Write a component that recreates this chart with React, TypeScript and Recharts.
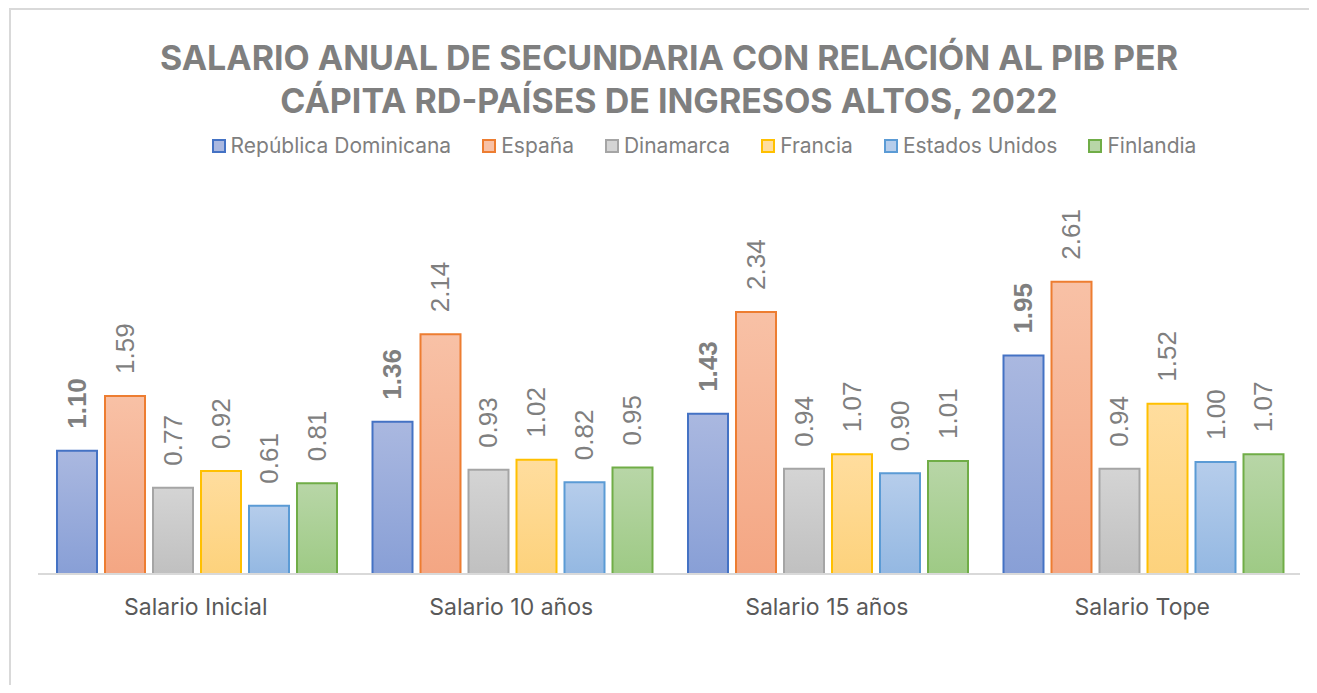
import { BarChart, Bar, XAxis, YAxis, LabelList } from 'recharts';

// Categories and series values
const categories = ['Salario Inicial', 'Salario 10 años', 'Salario 15 años', 'Salario Tope'];
const republicaDominicana = [1.10, 1.36, 1.43, 1.95];
const espana = [1.59, 2.14, 2.34, 2.61];
const dinamarca = [0.77, 0.93, 0.94, 0.94];
const francia = [0.92, 1.02, 1.07, 1.52];
const estadosUnidos = [0.61, 0.82, 0.90, 1.00];
const finlandia = [0.81, 0.95, 1.01, 1.07];

const data = categories.map((cat, i) => ({
  cat,
  rd: republicaDominicana[i],
  es: espana[i],
  dk: dinamarca[i],
  fr: francia[i],
  us: estadosUnidos[i],
  fi: finlandia[i],
}));

const SERIES = [
  { key: 'rd', name: 'República Dominicana', stroke: '#4472C4', top: '#AAB8E0', bottom: '#889FD6', bold: true },
  { key: 'es', name: 'España', stroke: '#ED7D31', top: '#F8C1A6', bottom: '#F4A683', bold: false },
  { key: 'dk', name: 'Dinamarca', stroke: '#A5A5A5', top: '#D4D4D4', bottom: '#C0C0C0', bold: false },
  { key: 'fr', name: 'Francia', stroke: '#FFC000', top: '#FFDD9E', bottom: '#FDD27C', bold: false },
  { key: 'us', name: 'Estados Unidos', stroke: '#5B9BD5', top: '#B6CDEB', bottom: '#94B8E2', bold: false },
  { key: 'fi', name: 'Finlandia', stroke: '#70AD47', top: '#B8D6A7', bottom: '#9ECA85', bold: false },
];

const FONT = 'Inter, "Open Sans", sans-serif';
const GREY = '#7F7F7F';

// rotated value label sitting above each bar
const makeLabel = (bold: boolean) => (props: any) => {
  const { x, y, width, value } = props;
  const cx = x + width / 2;
  const cy = y - 22;
  return (
    <text
      x={cx}
      y={cy}
      transform={`rotate(-90, ${cx}, ${cy})`}
      textAnchor="start"
      dominantBaseline="central"
      fill={GREY}
      fontSize={26}
      fontWeight={bold ? 700 : 400}
      fontFamily='"Liberation Sans", Arial, sans-serif'
    >
      {Number(value).toFixed(2)}
    </text>
  );
};

export default function App() {
  return (
    <div
      style={{
        position: 'relative',
        width: 1308,
        height: 685,
        marginLeft: 1,
        marginBottom: -8,
        borderTop: '2px solid #D9D9D9',
        borderLeft: '2px solid #D9D9D9',
        boxSizing: 'border-box',
        background: '#fff',
        overflow: 'hidden',
      }}
    >
      <div
        style={{
          position: 'absolute',
          left: 0,
          width: 1316,
          top: 26,
          textAlign: 'center',
          fontFamily: FONT,
          fontWeight: 700,
          fontSize: 34,
          lineHeight: '43px',
          color: GREY,
        }}
      >
        SALARIO ANUAL DE SECUNDARIA CON RELACIÓN AL PIB PER
        <br />
        CÁPITA RD-PAÍSES DE INGRESOS ALTOS, 2022
      </div>
      <div
        style={{
          position: 'absolute',
          left: 0,
          width: 1386,
          top: 122,
          display: 'flex',
          justifyContent: 'center',
          gap: 31,
          fontFamily: FONT,
          fontSize: 21,
          lineHeight: '28px',
          color: GREY,
        }}
      >
        {SERIES.map((s) => (
          <div key={s.key} style={{ display: 'flex', alignItems: 'center', gap: 5 }}>
            <span
              style={{
                display: 'inline-block',
                width: 10,
                height: 10,
                border: `2px solid ${s.stroke}`,
                background: s.top,
              }}
            />
            <span>{s.name}</span>
          </div>
        ))}
      </div>
      <BarChart
        width={1300}
        height={680}
        data={data}
        margin={{ top: 228, right: 11, bottom: 86, left: 27 }}
        barCategoryGap={19}
        barGap={8}
        style={{ position: 'absolute', left: 0, top: 0 }}
      >
        <defs>
          {SERIES.map((s) => (
            <linearGradient key={s.key} id={`grad-${s.key}`} x1="0" y1="0" x2="0" y2="1">
              <stop offset="0%" stopColor={s.top} />
              <stop offset="100%" stopColor={s.bottom} />
            </linearGradient>
          ))}
        </defs>
        <XAxis
          dataKey="cat"
          axisLine={{ stroke: '#D9D9D9', strokeWidth: 2 }}
          tickLine={false}
          tickSize={6}
          tickMargin={19}
          tick={{ fill: '#595959', fontSize: 23, fontFamily: FONT }}
        />
        <YAxis hide domain={[0, 3]} />
        {SERIES.map((s) => (
          <Bar
            key={s.key}
            dataKey={s.key}
            name={s.name}
            fill={`url(#grad-${s.key})`}
            stroke={s.stroke}
            strokeWidth={2}
            isAnimationActive={false}
          >
            <LabelList dataKey={s.key} content={makeLabel(s.bold)} />
          </Bar>
        ))}
      </BarChart>
    </div>
  );
}
